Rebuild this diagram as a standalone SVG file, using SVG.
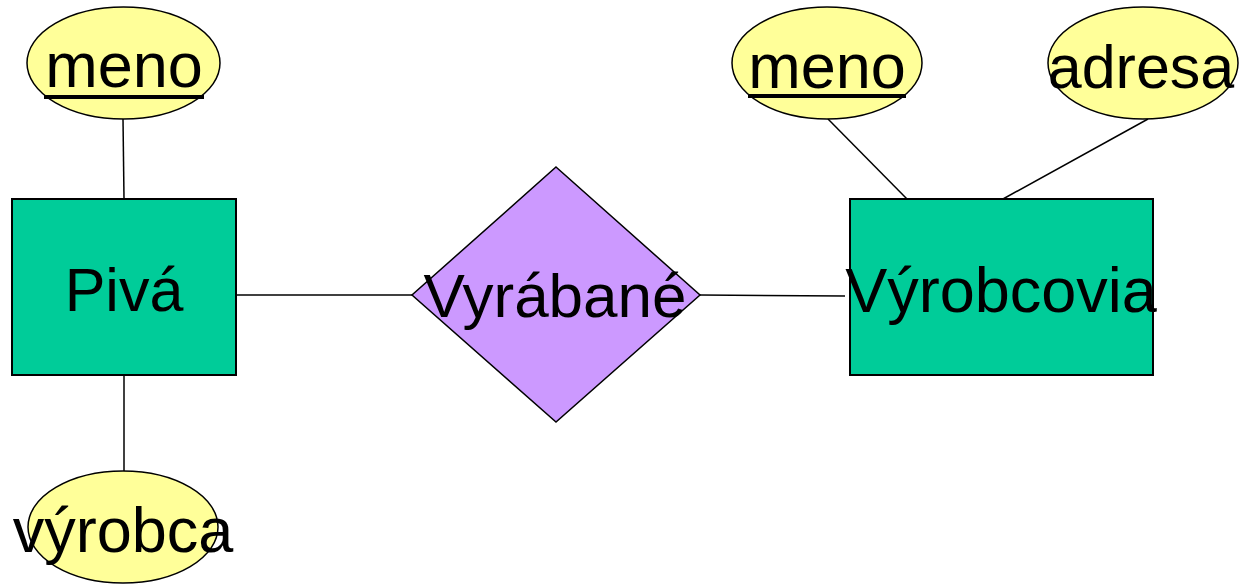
<svg xmlns="http://www.w3.org/2000/svg" width="1249" height="585" viewBox="0 0 1249 585">
<style>
.ent{fill:#00CC99;stroke:#000;stroke-width:2}
.attr{fill:#FFFF99;stroke:#000;stroke-width:1.5}
.rel{fill:#CC99FF;stroke:#000;stroke-width:1.5}
.conn line{stroke:#000;stroke-width:1.5}
text{font-family:"Liberation Sans",Arial,sans-serif;fill:#000;text-anchor:middle}
.ul{stroke:#000;stroke-width:4}
</style>
<rect width="1249" height="585" fill="#fff"/>
<g id="connectors" class="conn">
<line x1="123" y1="119" x2="124" y2="199"/>
<line x1="124" y1="375" x2="124" y2="471"/>
<line x1="236" y1="295" x2="412" y2="295"/>
<line x1="700" y1="295" x2="845" y2="296"/>
<line x1="828" y1="119" x2="907" y2="199"/>
<line x1="1148" y1="119" x2="1003" y2="199"/>
</g>
<g id="meno1">
<ellipse class="attr" cx="123.5" cy="63" rx="96.5" ry="56"/>
<text x="124" y="87" font-size="63">meno</text>
<line class="ul" x1="44" y1="97" x2="204" y2="97"/>
</g>
<g id="vyrobca">
<ellipse class="attr" cx="123" cy="527" rx="95" ry="56"/>
<text x="123" y="552" font-size="63">výrobca</text>
</g>
<g id="piva">
<rect class="ent" x="12" y="199" width="224" height="176"/>
<text x="124" y="311" font-size="61">Pivá</text>
</g>
<g id="vyrabane">
<polygon class="rel" points="556,167 700,295 556,422 412,295"/>
<text x="555" y="317" font-size="62">Vyrábané</text>
</g>
<g id="vyrobcovia">
<rect class="ent" x="850" y="199" width="303" height="176"/>
<text x="1001" y="312" font-size="63">Výrobcovia</text>
</g>
<g id="meno2">
<ellipse class="attr" cx="827" cy="63" rx="95" ry="56"/>
<text x="827" y="88" font-size="63">meno</text>
<line class="ul" x1="748" y1="96" x2="906" y2="96"/>
</g>
<g id="adresa">
<ellipse class="attr" cx="1143" cy="63" rx="95" ry="56"/>
<text x="1141" y="88" font-size="61">adresa</text>
</g>
</svg>
